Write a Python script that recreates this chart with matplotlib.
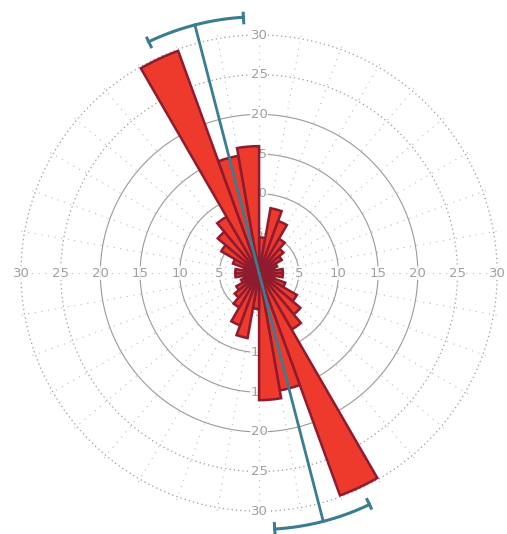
import numpy as np
import matplotlib
matplotlib.use("Agg")
from matplotlib import pyplot as plt

# bin starts (deg, clockwise from north) and counts for one half; the rose is bidirectional
bin_start = np.arange(0, 180, 10)
counts = [4.5, 8.3, 7.0, 5.0, 4.0, 3.3, 2.4, 2.0, 3.0,
          3.0, 2.0, 3.5, 5.5, 6.8, 8.2, 29.8, 15.0, 16.0]
ring_vals = [5, 10, 15, 20, 25, 30]
mean_dir = 345.5      # mean axial direction
ci_half = 11.0        # half width of the confidence arc
mean_len = 32.3

fig = plt.figure(figsize=(5.07, 5.34), dpi=100)
ax = fig.add_axes([-0.006, -0.002, 1.034, 0.981], projection='polar')
ax.set_theta_zero_location('N')
ax.set_theta_direction(-1)
ax.set_ylim(0, 33)
ax.grid(False)
ax.set_xticks([])
ax.set_yticks([])
ax.spines['polar'].set_visible(False)

t = np.linspace(0, 2 * np.pi, 721)
# rings: inner ones solid, outer ones dotted
for r in ring_vals:
    if r <= 20:
        ax.plot(t, np.full_like(t, r), color='#9a9a9a', lw=0.8, zorder=1)
    else:
        ax.plot(t, np.full_like(t, r), color='#9a9a9a', lw=0.9,
                ls=(0, (1, 2.5)), zorder=1)
# dotted spokes
for a in range(0, 360, 10):
    ax.plot([np.radians(a)] * 2, [0, 31], color='#bbbbbb', lw=0.8,
            ls=(0, (1, 5)), zorder=1)

# ring labels along the four axes
for a in [0, 90, 180, 270]:
    for r in ring_vals:
        ax.text(np.radians(a), r, str(r), color='#a0a0a0', fontsize=9.5,
                ha='center', va='center', zorder=2,
                bbox=dict(fc='white', ec='none', pad=0.3, alpha=0.8))

# bars, both halves
theta = np.radians(np.concatenate([bin_start, bin_start + 180]))
vals = np.concatenate([counts, counts])
ax.bar(theta, vals, width=np.radians(10), align='edge', bottom=0,
       color='#ee3a2c', edgecolor='#8e1b2e', linewidth=1.8, zorder=3)

# mean direction with confidence arc
blue = '#3a7d90'
for d in [mean_dir, mean_dir - 180]:
    ax.plot([np.radians(d), np.radians(d)], [0, mean_len], color=blue, lw=2, zorder=4)
    arc = np.radians(np.linspace(d - ci_half, d + ci_half, 60))
    ax.plot(arc, np.full_like(arc, mean_len), color=blue, lw=2.2, zorder=4)
    for e in [d - ci_half, d + ci_half]:
        ax.plot([np.radians(e)] * 2, [mean_len - 0.7, mean_len + 0.7],
                color=blue, lw=2.2, zorder=4)

fig.savefig('out.png', dpi=100)
